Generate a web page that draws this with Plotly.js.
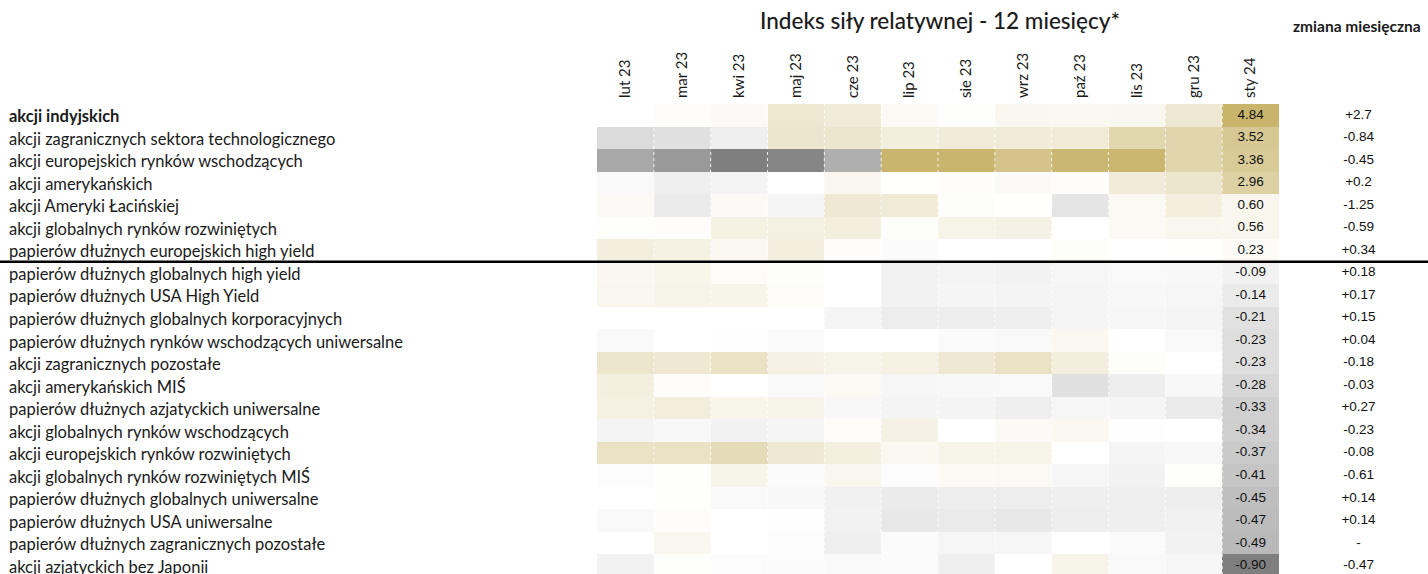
<!DOCTYPE html>
<html><head><meta charset="utf-8">
<script src="https://cdn.plot.ly/plotly-3.0.1.min.js"></script>
<style>html,body{margin:0;padding:0;background:#fff}#chart{width:1428px;height:574px}</style>
</head><body><div id="chart"></div>
<script>
const months = ['lut 23','mar 23','kwi 23','maj 23','cze 23','lip 23','sie 23','wrz 23','paź 23','lis 23','gru 23','sty 24'];
const assets = [
  'akcji indyjskich',
  'akcji zagranicznych sektora technologicznego',
  'akcji europejskich rynków wschodzących',
  'akcji amerykańskich',
  'akcji Ameryki Łacińskiej',
  'akcji globalnych rynków rozwiniętych',
  'papierów dłużnych europejskich high yield',
  'papierów dłużnych globalnych high yield',
  'papierów dłużnych USA High Yield',
  'papierów dłużnych globalnych korporacyjnych',
  'papierów dłużnych rynków wschodzących uniwersalne',
  'akcji zagranicznych pozostałe',
  'akcji amerykańskich MIŚ',
  'papierów dłużnych azjatyckich uniwersalne',
  'akcji globalnych rynków wschodzących',
  'akcji europejskich rynków rozwiniętych',
  'akcji globalnych rynków rozwiniętych MIŚ',
  'papierów dłużnych globalnych uniwersalne',
  'papierów dłużnych USA uniwersalne',
  'papierów dłużnych zagranicznych pozostałe',
  'akcji azjatyckich bez Japonii'
];
// relative strength index, one row per asset class, one value per month (estimated from colours; last column as printed)
const strength = [
  [0, 0.1, 0.3, 1.5, 1.25, 0.35, 0.05, 0.5, 0.45, 0.5, 1.4, 4.84],
  [-0.25, -0.22, -0.11, 1.6, 1.6, 1.05, 1.2, 1.2, 1.35, 2.6, 2.7, 3.52],
  [-0.61, -0.72, -0.90, -0.85, -0.56, 4.77, 4.75, 3.8, 4.65, 4.7, 2.7, 3.36],
  [-0.04, -0.11, -0.08, 0, 0.5, 0.02, 0.1, 0.3, 0.1, 1.25, 1.6, 2.96],
  [0.3, -0.14, 0.3, -0.07, 1.4, 1.3, 0.15, 0.02, -0.18, 0.4, 1.1, 0.60],
  [0.05, 0.1, 0.9, 0.95, 1.1, 0.15, 0.8, 0.85, 0, 0.35, 0.6, 0.56],
  [1.1, 0.9, 0.45, 1.1, 0.1, -0.03, 0, 0, 0.15, 0, 0.02, 0.23],
  [0.5, 0.65, 0.2, 0.15, 0, -0.09, -0.08, -0.09, -0.06, -0.04, -0.05, -0.09],
  [0.55, 0.75, 0.7, 0.2, 0, -0.09, -0.07, -0.08, -0.07, -0.05, -0.06, -0.14],
  [0, 0, 0, 0, -0.07, -0.13, -0.12, -0.11, -0.07, -0.06, -0.07, -0.21],
  [-0.04, 0, -0.01, -0.03, 0, 0, -0.03, -0.04, 0.45, 0, -0.04, -0.23],
  [1.6, 1.45, 1.9, 0.85, 0.75, 0.9, 1.4, 1.9, 1.05, 0.15, 0, -0.23],
  [1.0, 0.1, 0, -0.04, 0.4, -0.06, -0.05, -0.04, -0.22, -0.12, -0.05, -0.28],
  [0.95, 1.15, 0.65, 0.7, -0.05, -0.08, -0.08, -0.11, -0.06, -0.07, -0.14, -0.33],
  [-0.08, -0.05, -0.09, -0.07, 0.2, 0.85, 0, 0.3, 0.45, -0.01, 0, -0.34],
  [1.9, 1.9, 2.3, 1.4, 1.0, 0.45, 0.75, 0.8, 0, -0.07, -0.05, -0.37],
  [-0.02, 0.08, 0.7, -0.03, 0.55, -0.02, 0.35, 0.4, -0.06, -0.09, 0.05, -0.41],
  [0, 0.08, -0.04, -0.05, -0.1, -0.14, -0.12, -0.13, -0.11, -0.11, -0.12, -0.45],
  [-0.04, 0.1, 0, -0.01, -0.09, -0.16, -0.15, -0.16, -0.12, -0.11, -0.1, -0.47],
  [0, 0.5, 0, -0.02, -0.11, -0.03, -0.06, -0.06, 0, -0.03, -0.09, -0.49],
  [-0.09, 0.08, -0.02, -0.03, -0.04, -0.03, -0.11, 0, 0.75, -0.04, -0.06, -0.90]
];
// monthly change (null = no value, printed as "-")
const monthlyChange = [2.7, -0.84, -0.45, 0.2, -1.25, -0.59, 0.34, 0.18, 0.17, 0.15, 0.04, -0.18, -0.03, 0.27, -0.23, -0.08, -0.61, 0.14, 0.14, null, -0.47];

const rowIdx = assets.map((_, i) => i);
const colIdx = months.map((_, i) => i);
const lastCol = months.length - 1;
const X_MIN = -11.005, X_MAX = 14.122;
const LABEL_X = -10.88;
const CHANGE_X = 12.9;

const allVals = strength.flat();
const zmin = Math.min(...allVals), zmax = Math.max(...allVals);
const mid = (0 - zmin) / (zmax - zmin);

const labelFont = 'Lato, Open Sans, sans-serif';
const heat = {
  type: 'heatmap',
  x: colIdx, y: rowIdx, z: strength,
  zmin: zmin, zmax: zmax,
  colorscale: [[0, '#7f7f7f'], [mid, '#ffffff'], [1, '#c8b46b']],
  showscale: false,
  hoverinfo: 'skip'
};
const numFont = {family: 'Liberation Sans Narrow, Arial Narrow, sans-serif', size: 13.5, color: '#111'};
const lastText = {
  type: 'scatter', mode: 'text', cliponaxis: false,
  x: rowIdx.map(() => lastCol), y: rowIdx,
  text: strength.map(r => r[lastCol].toFixed(2)),
  textfont: numFont,
  hoverinfo: 'skip', showlegend: false
};
const changeText = {
  type: 'scatter', mode: 'text', cliponaxis: false,
  x: rowIdx.map(() => CHANGE_X), y: rowIdx,
  text: monthlyChange.map(v => v === null ? '-' : (v > 0 ? '+' + v : String(v))),
  textfont: numFont,
  hoverinfo: 'skip', showlegend: false
};

const shapes = [];
for (let k = 0; k < months.length - 1; k++) {
  shapes.push({type: 'line', xref: 'x', yref: 'y', x0: k + 0.5, x1: k + 0.5, y0: -0.5, y1: assets.length - 0.5,
    line: {color: 'rgba(255,255,255,0.85)', width: 1, dash: '3px,3px'}});
}
shapes.push({type: 'line', xref: 'paper', yref: 'y', x0: 0, x1: 1, y0: 6.5, y1: 6.5, line: {color: '#000', width: 2.5}});

const annotations = assets.map((a, i) => ({
  text: i === 0 ? '<b>' + a + '</b>' : a,
  xref: 'x', yref: 'y', x: LABEL_X, y: i, xanchor: 'left', yanchor: 'middle', yshift: -1,
  showarrow: false, font: {family: labelFont, size: 16.5, color: '#1a1a1a'}
}));
annotations.push({text: 'zmiana miesięczna', xref: 'paper', yref: 'paper', x: 1357 / 1428, y: (574 - 26) / 470,
  xanchor: 'center', yanchor: 'middle', showarrow: false,
  font: {family: labelFont, size: 15.5, color: '#1a1a1a', weight: 700}});

const layout = {
  width: 1428, height: 574,
  margin: {l: 0, r: 0, t: 104, b: 0, pad: 0},
  paper_bgcolor: '#fff', plot_bgcolor: '#fff',
  showlegend: false,
  title: {text: 'Indeks siły relatywnej - 12 miesięcy*', x: 940 / 1428, xanchor: 'center', xref: 'container',
    y: 1 - 21 / 574, yref: 'container', yanchor: 'middle',
    font: {family: labelFont, size: 22.5, color: '#1a1a1a', weight: 500}},
  xaxis: {range: [X_MIN, X_MAX], side: 'top', tickmode: 'array', tickvals: colIdx, ticktext: months,
    tickangle: -90, ticklabelstandoff: 5, showgrid: false, zeroline: false, showline: false, ticks: '',
    tickfont: {family: labelFont, size: 15, color: '#1a1a1a'}, fixedrange: true},
  yaxis: {range: [20.367, -0.5], showticklabels: false, showgrid: false, zeroline: false, showline: false, ticks: '',
    fixedrange: true},
  shapes: shapes,
  annotations: annotations
};
Plotly.newPlot('chart', [heat, lastText, changeText], layout, {displayModeBar: false, staticPlot: true});
</script></body></html>
